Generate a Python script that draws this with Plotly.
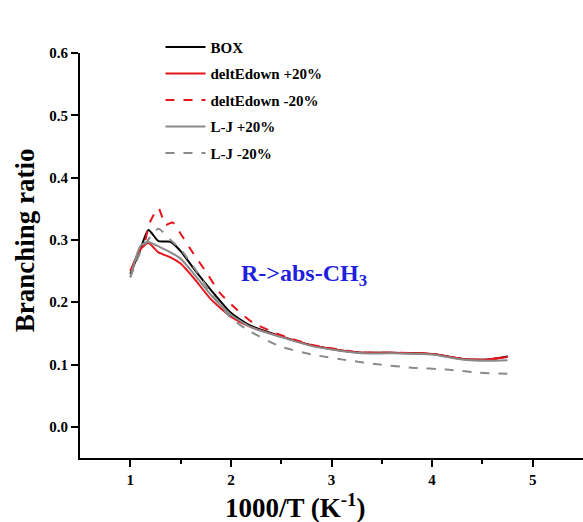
import plotly.graph_objects as go

# Branching ratio vs 1000/T for the R->abs-CH3 channel under parameter variations
x_box = [1.0, 1.1, 1.18, 1.28, 1.4, 1.5, 1.65, 1.8, 2.0, 2.2, 2.5, 2.8, 3.0, 3.3, 3.6, 4.0, 4.3, 4.55, 4.75]
y_box = [0.245, 0.285, 0.316, 0.298, 0.297, 0.282, 0.250, 0.220, 0.183, 0.162, 0.145, 0.131, 0.125, 0.119, 0.119, 0.117, 0.109, 0.108, 0.113]

x_de_up = [1.0, 1.1, 1.18, 1.28, 1.4, 1.5, 1.65, 1.8, 2.0, 2.2, 2.5, 2.8, 3.0, 3.3, 3.6, 4.0, 4.3, 4.55, 4.75]
y_de_up = [0.250, 0.285, 0.295, 0.280, 0.272, 0.262, 0.235, 0.205, 0.177, 0.160, 0.145, 0.131, 0.125, 0.119, 0.119, 0.117, 0.109, 0.108, 0.112]

x_de_dn = [1.15, 1.2, 1.28, 1.35, 1.42, 1.5, 1.62, 1.76, 1.89, 2.06, 2.22, 2.5, 2.8, 3.0, 3.3, 3.6, 4.0, 4.3, 4.55, 4.75]
y_de_dn = [0.300, 0.330, 0.351, 0.324, 0.328, 0.310, 0.280, 0.247, 0.215, 0.188, 0.167, 0.147, 0.132, 0.126, 0.119, 0.119, 0.117, 0.109, 0.108, 0.113]

x_lj_up = [1.0, 1.1, 1.17, 1.3, 1.4, 1.5, 1.65, 1.8, 2.0, 2.2, 2.5, 2.8, 3.0, 3.3, 3.6, 4.0, 4.3, 4.55, 4.75]
y_lj_up = [0.240, 0.290, 0.297, 0.288, 0.280, 0.270, 0.242, 0.212, 0.180, 0.160, 0.144, 0.130, 0.124, 0.118, 0.118, 0.116, 0.108, 0.106, 0.107]

x_lj_dn = [1.0, 1.1, 1.2, 1.28, 1.4, 1.5, 1.65, 1.8, 2.0, 2.16, 2.49, 2.81, 3.15, 3.48, 3.8, 4.14, 4.47, 4.76]
y_lj_dn = [0.240, 0.280, 0.305, 0.318, 0.300, 0.285, 0.252, 0.215, 0.175, 0.156, 0.129, 0.116, 0.107, 0.100, 0.095, 0.092, 0.087, 0.085]

x_ticks = [1, 2, 3, 4, 5]
y_ticks = [0.0, 0.1, 0.2, 0.3, 0.4, 0.5, 0.6]

serif = "Liberation Serif, Times New Roman, serif"

series = [
    ("BOX", x_box, y_box, "black", "solid"),
    ("deltEdown +20%", x_de_up, y_de_up, "#e8131b", "solid"),
    ("deltEdown -20%", x_de_dn, y_de_dn, "#e8131b", "dash"),
    ("L-J +20%", x_lj_up, y_lj_up, "#8a8a8a", "solid"),
    ("L-J -20%", x_lj_dn, y_lj_dn, "#8a8a8a", "dash"),
]

fig = go.Figure()
for i, (name, xs, ys, color, dash) in enumerate(series):
    fig.add_trace(go.Scatter(
        x=xs, y=ys, name=f"<b>{name}</b>", mode="lines", legendgroup=f"g{i}",
        line=dict(color=color, width=2, dash=dash, shape="spline", smoothing=0.6),
    ))

# channel label inside the plot
fig.add_annotation(
    x=2.73, y=0.243, xref="x", yref="y", showarrow=False,
    text="<b>R->abs-CH<sub>3</sub></b>",
    font=dict(family=serif, size=24, color="#1f1fe0"),
)
# axis titles
fig.add_annotation(
    x=0.429, y=-0.118, xref="paper", yref="paper", showarrow=False,
    xanchor="center", yanchor="middle",
    text="<b>1000/T (K<sup>-1</sup>)</b>",
    font=dict(family=serif, size=27, color="black"),
)
fig.add_annotation(
    x=-0.109, y=0.538, xref="paper", yref="paper", showarrow=False, textangle=-90,
    xanchor="center", yanchor="middle",
    text="<b>Branching ratio</b>",
    font=dict(family=serif, size=27, color="black"),
)

fig.update_layout(
    width=583, height=522,
    margin=dict(l=80, r=0, t=53, b=64),
    plot_bgcolor="white", paper_bgcolor="white",
    showlegend=True,
    legend=dict(
        x=0.16, y=1.055, xref="paper", yref="paper", xanchor="left", yanchor="top",
        font=dict(family=serif, size=15, color="black"),
        bgcolor="rgba(0,0,0,0)", tracegroupgap=4, itemwidth=40,
    ),
    font=dict(family=serif, color="black"),
)

fig.update_xaxes(
    range=[0.5, 5.5], tickvals=x_ticks, ticktext=[f"<b>{v}</b>" for v in x_ticks],
    ticks="outside", ticklen=7, tickwidth=2, tickcolor="black",
    minor=dict(tickvals=[1.5, 2.5, 3.5, 4.5], ticks="outside", ticklen=4, tickwidth=2, tickcolor="black"),
    showline=True, linecolor="black", linewidth=2, showgrid=False, zeroline=False,
    tickfont=dict(family=serif, size=15),
)
fig.update_yaxes(
    range=[-0.05, 0.6], tickvals=y_ticks, ticktext=[f"<b>{v:.1f}</b>" for v in y_ticks],
    ticks="outside", ticklen=7, tickwidth=2, tickcolor="black",
    showline=True, linecolor="black", linewidth=2, showgrid=False, zeroline=False,
    tickfont=dict(family=serif, size=15),
)

fig.write_html("out.html")
